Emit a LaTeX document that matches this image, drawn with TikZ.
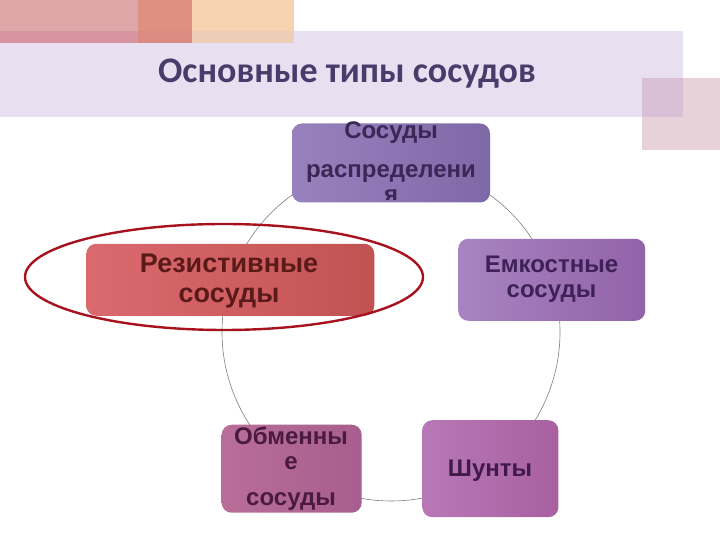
\documentclass[tikz,border=0pt]{standalone}
\usepackage{fontspec}
\setmainfont{Liberation Sans}
\newfontfamily\titlefont{Carlito}
\usetikzlibrary{backgrounds,calc,shapes.geometric}
\definecolor{bandC}{HTML}{E8E0F0}
\definecolor{pinkA}{HTML}{DEA7A7}
\definecolor{pinkB}{HTML}{D695A0}
\definecolor{salA}{HTML}{DF9080}
\definecolor{salB}{HTML}{DB8C82}
\definecolor{peachA}{HTML}{F7D3B1}
\definecolor{peachB}{HTML}{EDCDB8}
\definecolor{sqA}{HTML}{E8D2DA}
\definecolor{sqB}{HTML}{D9C0D6}
\definecolor{titleC}{HTML}{4B3B6B}
\definecolor{topL}{HTML}{9882BE}
\definecolor{topR}{HTML}{7E68A6}
\definecolor{topT}{HTML}{3A2756}
\definecolor{resL}{HTML}{DA6A6E}
\definecolor{resR}{HTML}{C25252}
\definecolor{resT}{HTML}{5B1A1A}
\definecolor{capL}{HTML}{A884C2}
\definecolor{capR}{HTML}{9262A8}
\definecolor{capT}{HTML}{3F2158}
\definecolor{shL}{HTML}{B878B8}
\definecolor{shR}{HTML}{A8609F}
\definecolor{shT}{HTML}{3F1A4A}
\definecolor{exL}{HTML}{B86E98}
\definecolor{exR}{HTML}{A85E8E}
\definecolor{exT}{HTML}{4A1A40}
\definecolor{ringC}{HTML}{A8121E}
\definecolor{connC}{HTML}{808080}
\begin{document}
\begin{tikzpicture}[x=1pt,y=1pt,
  box/.style={rounded corners=10pt, inner sep=0pt, outer sep=0pt},
  lbl/.style={anchor=base, inner sep=0pt, font=\bfseries\fontsize{24}{28}\selectfont},
  conn/.style={draw=connC, line width=0.6pt},
  ring/.style={draw=ringC, line width=2.4pt, ellipse, inner sep=0pt}]
\useasboundingbox (0,0) rectangle (720,540);
\begin{pgfonlayer}{background}
\fill[white] (0,0) rectangle (720,540);
\fill[bandC] (0,423) rectangle (683,509);
\fill[pinkA] (0,509) rectangle (138,540);
\fill[pinkB] (0,497) rectangle (138,509);
\fill[salA] (138,509) rectangle (192,540);
\fill[salB] (138,497) rectangle (192,509);
\fill[peachA] (192,509) rectangle (294,540);
\fill[peachB] (192,497) rectangle (294,509);
\fill[sqA] (642,390) rectangle (720,462);
\fill[sqB] (642,423) rectangle (683,462);
\end{pgfonlayer}
\node[anchor=base, inner sep=0pt, text=titleC, font=\titlefont\bfseries\fontsize{36}{40}\selectfont] (title) at (347,457) {Основные типы сосудов};
\coordinate (c) at (391,208);
% boxes
\node[box, left color=topL, right color=topR, minimum width=198, minimum height=79] (top) at ($(c)+(90:169)$) {};
\node[box, left color=capL, right color=capR, minimum width=187, minimum height=82] (cap) at ($(c)+(18:169)$) {};
\node[box, left color=shL, right color=shR, minimum width=136, minimum height=97] (sh) at ($(c)+(-54:169)$) {};
\node[box, left color=exL, right color=exR, minimum width=140, minimum height=88] (ex) at ($(c)+(-126:169)$) {};
\node[box, left color=resL, right color=resR, minimum width=288, minimum height=72] (res) at ($(c)+(162:169)$) {};
% texts
\begin{scope}
\clip[rounded corners=10pt] ([yshift=3pt]top.south west) rectangle ([yshift=3pt]top.north east);
\node[lbl, text=topT] (t1) at (391,401) {Сосуды};
\node[lbl, text=topT] (t2) at (391,362) {распределени};
\node[lbl, text=topT] (t3) at (391,337) {я};
\end{scope}
\node[lbl, text=resT, font=\bfseries\fontsize{27}{30}\selectfont] (r1) at (229,267) {Резистивные};
\node[lbl, text=resT, font=\bfseries\fontsize{27}{30}\selectfont] (r2) at (229,237) {сосуды};
\node[lbl, text=capT] (e1) at (551.5,267) {Емкостные};
\node[lbl, text=capT] (e2) at (551.5,242) {сосуды};
\node[lbl, text=shT] (s1) at (490,63) {Шунты};
\node[lbl, text=exT] (o1) at (291,95) {Обменны};
\node[lbl, text=exT] (o2) at (291,70) {е};
\node[lbl, text=exT] (o3) at (291,34) {сосуды};
% connectors (arcs of the cycle)
\begin{pgfonlayer}{background}
\draw[conn] (top.center) arc[start angle=90, end angle=18, radius=169];
\draw[conn] (cap.center) arc[start angle=18, end angle=-54, radius=169];
\draw[conn] (sh.center) arc[start angle=-54, end angle=-126, radius=169];
\draw[conn] (ex.center) arc[start angle=-126, end angle=-198, radius=169];
\draw[conn] (res.center) arc[start angle=162, end angle=90, radius=169];
\end{pgfonlayer}
% highlight ellipse
\node[ring, minimum width=398, minimum height=106] (hl) at (224,263) {};
\end{tikzpicture}
\end{document}
